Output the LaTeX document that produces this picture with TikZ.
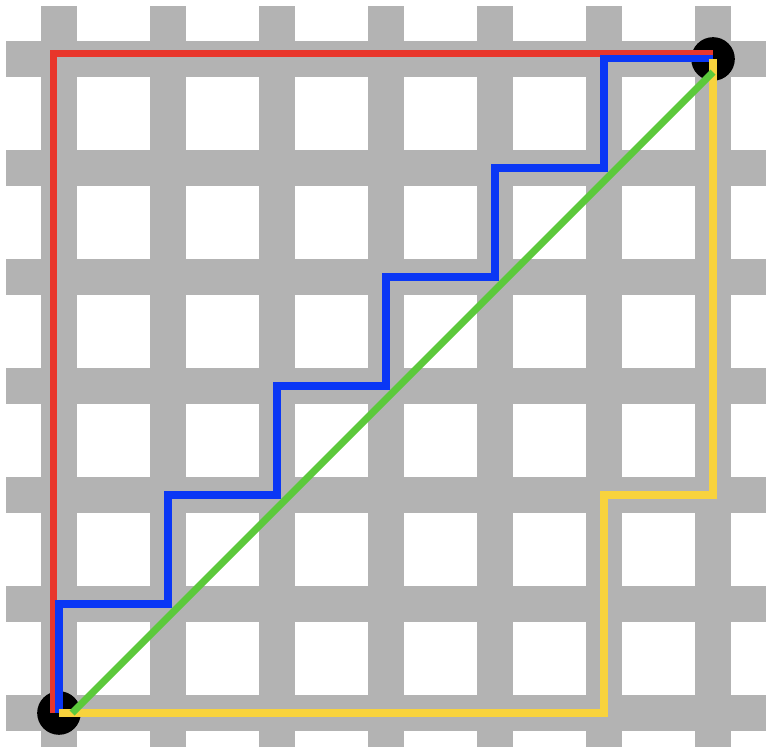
\documentclass[tikz,border=0pt]{standalone}
\usetikzlibrary{positioning}
\definecolor{street}{HTML}{B3B3B3}
\definecolor{taxired}{HTML}{E8362B}
\definecolor{taxiblue}{HTML}{0A37F5}
\definecolor{taxigreen}{HTML}{5CC93B}
\definecolor{taxiyellow}{HTML}{F8D33D}
\tikzset{
  route/.style={line width=1.85pt,line join=miter},
  stop/.style={circle,fill=black,inner sep=0pt,minimum size=0.4cm}
}

\begin{document}
\begin{tikzpicture}
\useasboundingbox (-0.541,-0.303) rectangle (6.541,6.541);
\clip (-0.541,-0.303) rectangle (6.541,6.541);
% streets
\foreach \k in {0,...,6} {
  \fill[street] (\k-0.165,-0.486) rectangle (\k+0.165,6.486);
  \fill[street] (-0.486,\k-0.165) rectangle (6.486,\k+0.165);
}
% end points
\node[stop] (start) at (0,0) {};
\node[stop] (goal) at (6,6) {};
% routes
\draw[taxired,route] ([xshift=-0.05cm]start.center) |- ([yshift=0.05cm]goal.center);
\draw[taxiblue,route] (start.center)
  \foreach \s in {1,...,5} { -- ++(0,1) -- ++(1,0) } -- ++(0,1) -- (goal.center);
\draw[taxiyellow,route] (start.center) -| (5,2) -| (goal.center);
\draw[taxigreen,route] ([xshift=0.12cm]start.center) -- ([yshift=-0.12cm]goal.center);
\end{tikzpicture}
\end{document}
